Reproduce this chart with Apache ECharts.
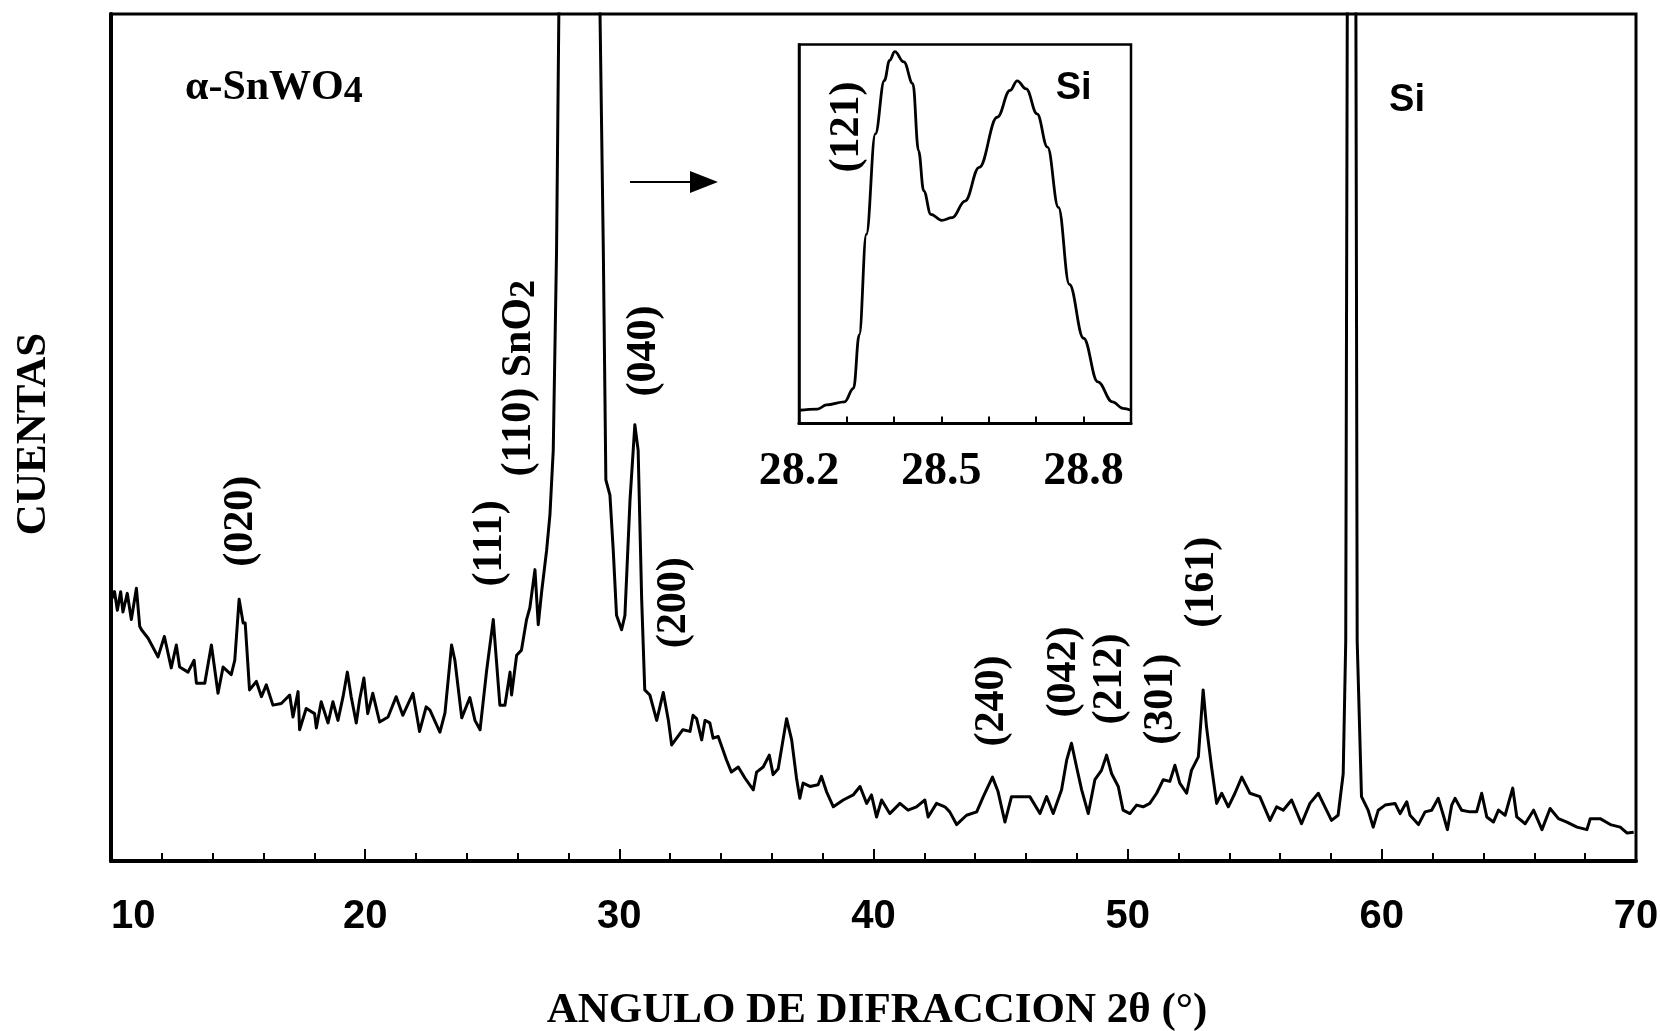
<!DOCTYPE html>
<html><head><meta charset="utf-8">
<script src="https://cdn.jsdelivr.net/npm/echarts@6/dist/echarts.min.js"></script>
<style>html,body{margin:0;padding:0;background:#fff}#c{width:1660px;height:1031px}</style>
</head><body><div id="c"></div>
<script>
// Main XRD pattern: diffraction angle 2θ (deg) and counts (arbitrary units, frame top = 100)
const mainAngle = [
10.01,10.14,10.25,10.38,10.47,10.64,10.80,11.00,11.13,11.20,
11.46,11.85,12.10,12.37,12.57,12.70,13.03,13.27,13.36,13.69,
13.95,14.21,14.41,14.73,14.87,15.04,15.20,15.28,15.45,15.72,
15.92,16.11,16.37,16.70,17.03,17.16,17.36,17.42,17.68,18.01,
18.08,18.27,18.54,18.73,18.93,19.13,19.30,19.45,19.65,19.78,
19.95,20.10,20.30,20.57,20.90,21.22,21.48,21.88,22.14,22.40,
22.55,22.94,23.14,23.40,23.53,23.80,24.12,24.32,24.52,24.78,
25.04,25.30,25.50,25.70,25.76,25.96,26.15,26.35,26.48,26.68,
26.81,26.94,27.14,27.27,27.40,27.53,27.62,28.45,29.24,29.37,
29.47,29.63,29.76,29.89,30.09,30.22,30.42,30.61,30.74,30.88,
31.00,31.20,31.47,31.73,31.93,32.06,32.50,32.78,32.90,33.04,
33.24,33.37,33.56,33.69,33.89,34.22,34.41,34.68,34.94,35.27,
35.40,35.66,35.90,36.05,36.25,36.58,36.78,36.97,37.10,37.23,
37.50,37.82,37.95,38.15,38.42,38.81,39.20,39.47,39.73,39.92,
40.12,40.32,40.64,41.04,41.36,41.69,42.02,42.15,42.48,42.81,
43.00,43.27,43.66,44.06,44.32,44.68,44.90,45.17,45.43,45.76,
46.15,46.55,46.81,47.07,47.40,47.60,47.79,47.99,48.19,48.45,
48.71,48.97,49.17,49.37,49.63,49.82,50.09,50.35,50.61,50.87,
51.14,51.40,51.66,51.86,52.05,52.32,52.51,52.78,52.97,53.10,
53.30,53.50,53.70,53.96,54.22,54.49,54.81,55.20,55.60,55.86,
56.12,56.45,56.84,57.17,57.50,57.76,58.02,58.28,58.48,58.58,
58.64,58.81,58.98,59.03,59.20,59.46,59.66,59.86,60.13,60.52,
60.72,60.98,61.11,61.44,61.70,61.96,62.22,62.42,62.58,62.75,
62.88,63.14,63.47,63.73,63.93,64.13,64.39,64.59,64.85,65.15,
65.31,65.64,65.97,66.30,66.62,66.95,67.28,67.68,68.07,68.20,
68.59,68.99,69.38,69.65,69.91
];
const mainCounts = [
30.8,31.8,29.6,31.8,29.4,31.6,28.5,32.2,27.7,27.3,
26.3,24.1,26.5,22.8,25.5,22.9,22.3,23.7,21.0,21.0,
25.5,19.8,22.9,22.0,23.7,30.9,28.1,28.1,20.2,21.2,
19.4,20.8,18.4,18.6,19.6,17.0,20.0,15.5,18.0,17.4,
15.7,18.8,16.3,18.8,16.6,19.4,22.3,19.4,16.3,19.0,
21.6,17.4,19.8,16.4,17.0,19.4,17.2,19.8,15.3,18.2,
17.8,15.2,17.5,25.5,23.7,16.9,19.3,16.6,15.5,22.5,
28.5,18.4,18.4,22.3,19.6,24.3,24.9,28.5,29.9,34.4,
27.9,31.7,36.7,40.9,48.5,72.1,100,260,100,72.1,
45.0,43.2,36.7,29.0,27.3,29.0,42.6,51.5,48.5,30.8,
20.2,19.6,16.6,19.9,16.6,13.7,15.5,15.3,17.2,16.8,
14.3,16.6,16.3,14.5,14.7,11.9,10.5,11.1,9.8,8.4,
10.5,11.1,12.5,10.2,10.9,16.8,14.3,9.8,7.4,9.2,
8.8,9.0,10.0,8.2,6.4,7.2,7.8,8.8,6.8,7.8,
5.2,7.2,5.6,6.8,6.0,6.4,7.2,5.2,6.8,6.4,
5.8,4.3,5.4,5.8,7.6,9.9,8.2,4.6,7.6,7.6,
7.6,5.6,7.6,5.6,8.4,11.9,13.9,11.1,8.4,5.6,
9.6,10.7,12.5,10.3,8.8,6.0,5.6,6.6,6.4,6.8,
8.0,9.6,9.4,11.3,9.2,8.0,10.7,12.3,20.2,15.9,
11.1,6.8,8.0,6.4,8.0,9.9,8.0,7.6,4.8,6.4,
6.0,7.2,4.4,6.8,8.0,6.4,4.8,5.4,10.3,26,
100,140,100,26,7.6,6.0,4.0,6.0,6.6,6.8,
5.6,7.0,5.4,4.3,5.8,6.0,7.4,5.4,3.7,6.6,
7.4,6.0,5.8,5.8,8.0,5.2,4.6,6.0,5.4,8.6,
5.2,4.4,6.0,3.7,6.2,5.0,4.6,4.0,3.7,5.0,
5.0,4.3,4.0,3.3,3.4
];
// Inset: zoom of the 28.2–28.9° doublet
const insetAngle = [28.200,28.239,28.258,28.296,28.315,28.327,28.342,28.361,28.380,28.391,28.402,28.421,28.440,28.452,28.463,28.478,28.501,28.523,28.550,28.580,28.618,28.645,28.660,28.679,28.702,28.724,28.747,28.770,28.800,28.830,28.861,28.883,28.900];
const insetCounts = [3.5,3.8,4.9,5.7,9.3,23.4,49.9,76.4,90.5,95.8,98.1,95.4,89.7,72.0,61.4,55.2,53.6,54.3,58.7,67.6,80.8,87.9,90.4,88.3,81.7,72.9,57.0,36.7,22.5,11.0,5.7,4.0,3.5];
const xTickLabels = [10,20,30,40,50,60,70];
const insetTickLabels = [28.2,28.5,28.8];
// Peak annotations (Miller indices), anchored in data units
const peakNames  = ['(020)','(111)','(040)','(200)','(240)','(042)','(212)','(301)','(161)'];
const peakAnchorAngle  = [15.11,24.91,30.97,32.15,44.66,47.50,49.31,51.32,52.93];
const peakAnchorCounts = [40.1,37.5,60.2,30.5,18.9,22.3,21.5,19.1,32.9];

const serif = '"Liberation Serif","Times New Roman",serif';
const sans = '"Liberation Sans",Arial,sans-serif';

const chart = echarts.init(document.getElementById('c'), null, {renderer:'canvas'});
const mainData = mainAngle.map((a,i)=>[a, mainCounts[i]]);
const insetData = insetAngle.map((a,i)=>[a, insetCounts[i]]);

chart.setOption({
  animation:false,
  backgroundColor:'#fff',
  grid:[
    {left:111, top:14, width:1525, height:847, show:true, borderColor:'#000', borderWidth:3, backgroundColor:'transparent', outerBoundsMode:'none', containLabel:false},
    {left:799, top:44.5, width:332, height:379, show:true, borderColor:'#000', borderWidth:2.5, backgroundColor:'#fff', outerBoundsMode:'none', containLabel:false}
  ],
  xAxis:[
    {gridIndex:0, type:'value', min:10, max:70, interval:10,
     axisLine:{show:true, onZero:false, lineStyle:{color:'#000', width:4}},
     axisTick:{show:true, inside:true, length:12, lineStyle:{color:'#000', width:2}},
     minorTick:{show:true, splitNumber:5, length:8, lineStyle:{color:'#000', width:2}},
     splitLine:{show:false}, minorSplitLine:{show:false},
     axisLabel:{margin:36, color:'#000', fontFamily:sans, fontWeight:'bold', fontSize:40, alignMinLabel:'left',
       formatter:(v)=> xTickLabels.includes(Math.round(v)) ? String(Math.round(v)) : ''}},
    {gridIndex:1, type:'value', min:28.2, max:28.9, interval:0.1,
     axisLine:{show:true, onZero:false, lineStyle:{color:'#000', width:3}},
     axisTick:{show:true, inside:true, length:7, lineStyle:{color:'#000', width:2}},
     splitLine:{show:false},
     axisLabel:{margin:26, color:'#000', fontFamily:serif, fontWeight:'bold', fontSize:46, showMinLabel:true, showMaxLabel:true,
       formatter:(v)=>{const r=Math.round(v*10)/10; return insetTickLabels.includes(r) ? r.toFixed(1) : '';}}}
  ],
  yAxis:[
    {gridIndex:0, type:'value', min:0, max:100,
     axisLine:{show:true, onZero:false, lineStyle:{color:'#000', width:4}},
     axisTick:{show:false}, axisLabel:{show:false}, splitLine:{show:false}},
    {gridIndex:1, type:'value', min:0, max:100,
     axisLine:{show:true, onZero:false, lineStyle:{color:'#000', width:2.5}},
     axisTick:{show:false}, axisLabel:{show:false}, splitLine:{show:false}}
  ],
  series:[
    {type:'line', xAxisIndex:0, yAxisIndex:0, data:mainData, symbol:'none', clip:true,
     lineStyle:{color:'#000', width:3, join:'round'}, z:3},
    {type:'line', xAxisIndex:1, yAxisIndex:1, data:insetData, symbol:'none', clip:true,
     smooth:0.4, smoothMonotone:'x', lineStyle:{color:'#000', width:2.8}, z:3}
  ]
});

function px(g, x, y){ return chart.convertToPixel({gridIndex:g}, [x, y]); }
const rotTextStyle = {fontFamily:serif, fontWeight:'bold', fontSize:42, fill:'#000', align:'center', verticalAlign:'middle'};
const graphics = [];
peakNames.forEach((name,i)=>{
  const p = px(0, peakAnchorAngle[i], peakAnchorCounts[i]);
  graphics.push({type:'text', x:p[0], y:p[1], rotation:Math.PI/2, z:10, style:Object.assign({text:name}, rotTextStyle)});
});
// (110) SnO2 label with subscript
{
  const p = px(0, 26.05, 57.0);
  graphics.push({type:'text', x:p[0], y:p[1], rotation:Math.PI/2, z:10,
    style:{text:'{a|(110) SnO}{s|2}', align:'center', verticalAlign:'middle', fill:'#000',
      rich:{a:{fontFamily:serif, fontWeight:'bold', fontSize:42, lineHeight:48, verticalAlign:'middle'},
            s:{fontFamily:serif, fontWeight:'bold', fontSize:36, lineHeight:36, verticalAlign:'bottom'}}}});
}
// alpha-SnWO4
{
  const p = px(0, 12.91, 91.26);
  graphics.push({type:'text', x:p[0], y:p[1], z:10,
    style:{text:'{a|α-SnWO}{s|4}', align:'left', verticalAlign:'middle', fill:'#000',
      rich:{a:{fontFamily:serif, fontWeight:'bold', fontSize:42, lineHeight:46, verticalAlign:'middle'},
            s:{fontFamily:serif, fontWeight:'bold', fontSize:38, lineHeight:38, verticalAlign:'bottom'}}}});
}
// Si labels
{
  const p = px(0, 60.99, 89.8);
  graphics.push({type:'text', x:p[0], y:p[1], z:10, style:{text:'Si', fontFamily:sans, fontWeight:'bold', fontSize:38, fill:'#000', align:'center', verticalAlign:'middle'}});
  const q = px(1, 28.779, 88.5);
  graphics.push({type:'text', x:q[0], y:q[1], z:10, style:{text:'Si', fontFamily:sans, fontWeight:'bold', fontSize:38, fill:'#000', align:'center', verticalAlign:'middle'}});
  const r = px(1, 28.301, 78.2);
  graphics.push({type:'text', x:r[0], y:r[1], rotation:Math.PI/2, z:10, style:Object.assign({text:'(121)'}, rotTextStyle)});
}
// Arrow pointing to inset
{
  const t = px(0, 30.42, 80.17), b = px(0, 32.78, 80.17), h = px(0, 33.88, 80.17);
  graphics.push({type:'line', z:10, shape:{x1:t[0], y1:t[1], x2:b[0]+2, y2:b[1]}, style:{stroke:'#000', lineWidth:2}});
  graphics.push({type:'polygon', z:10, shape:{points:[[b[0], b[1]-11],[h[0], h[1]],[b[0], b[1]+11]]}, style:{fill:'#000'}});
}
// Axis titles
graphics.push({type:'text', x:877, y:1011, z:10, style:{text:'ANGULO DE DIFRACCION 2θ (°)', fontFamily:serif, fontWeight:'bold', fontSize:43, fill:'#000', align:'center', verticalAlign:'middle'}});
graphics.push({type:'text', x:34, y:434, rotation:Math.PI/2, z:10, style:{text:'CUENTAS', fontFamily:serif, fontWeight:'bold', fontSize:43, fill:'#000', align:'center', verticalAlign:'middle'}});

chart.setOption({graphic:graphics});
</script>
</body></html>
